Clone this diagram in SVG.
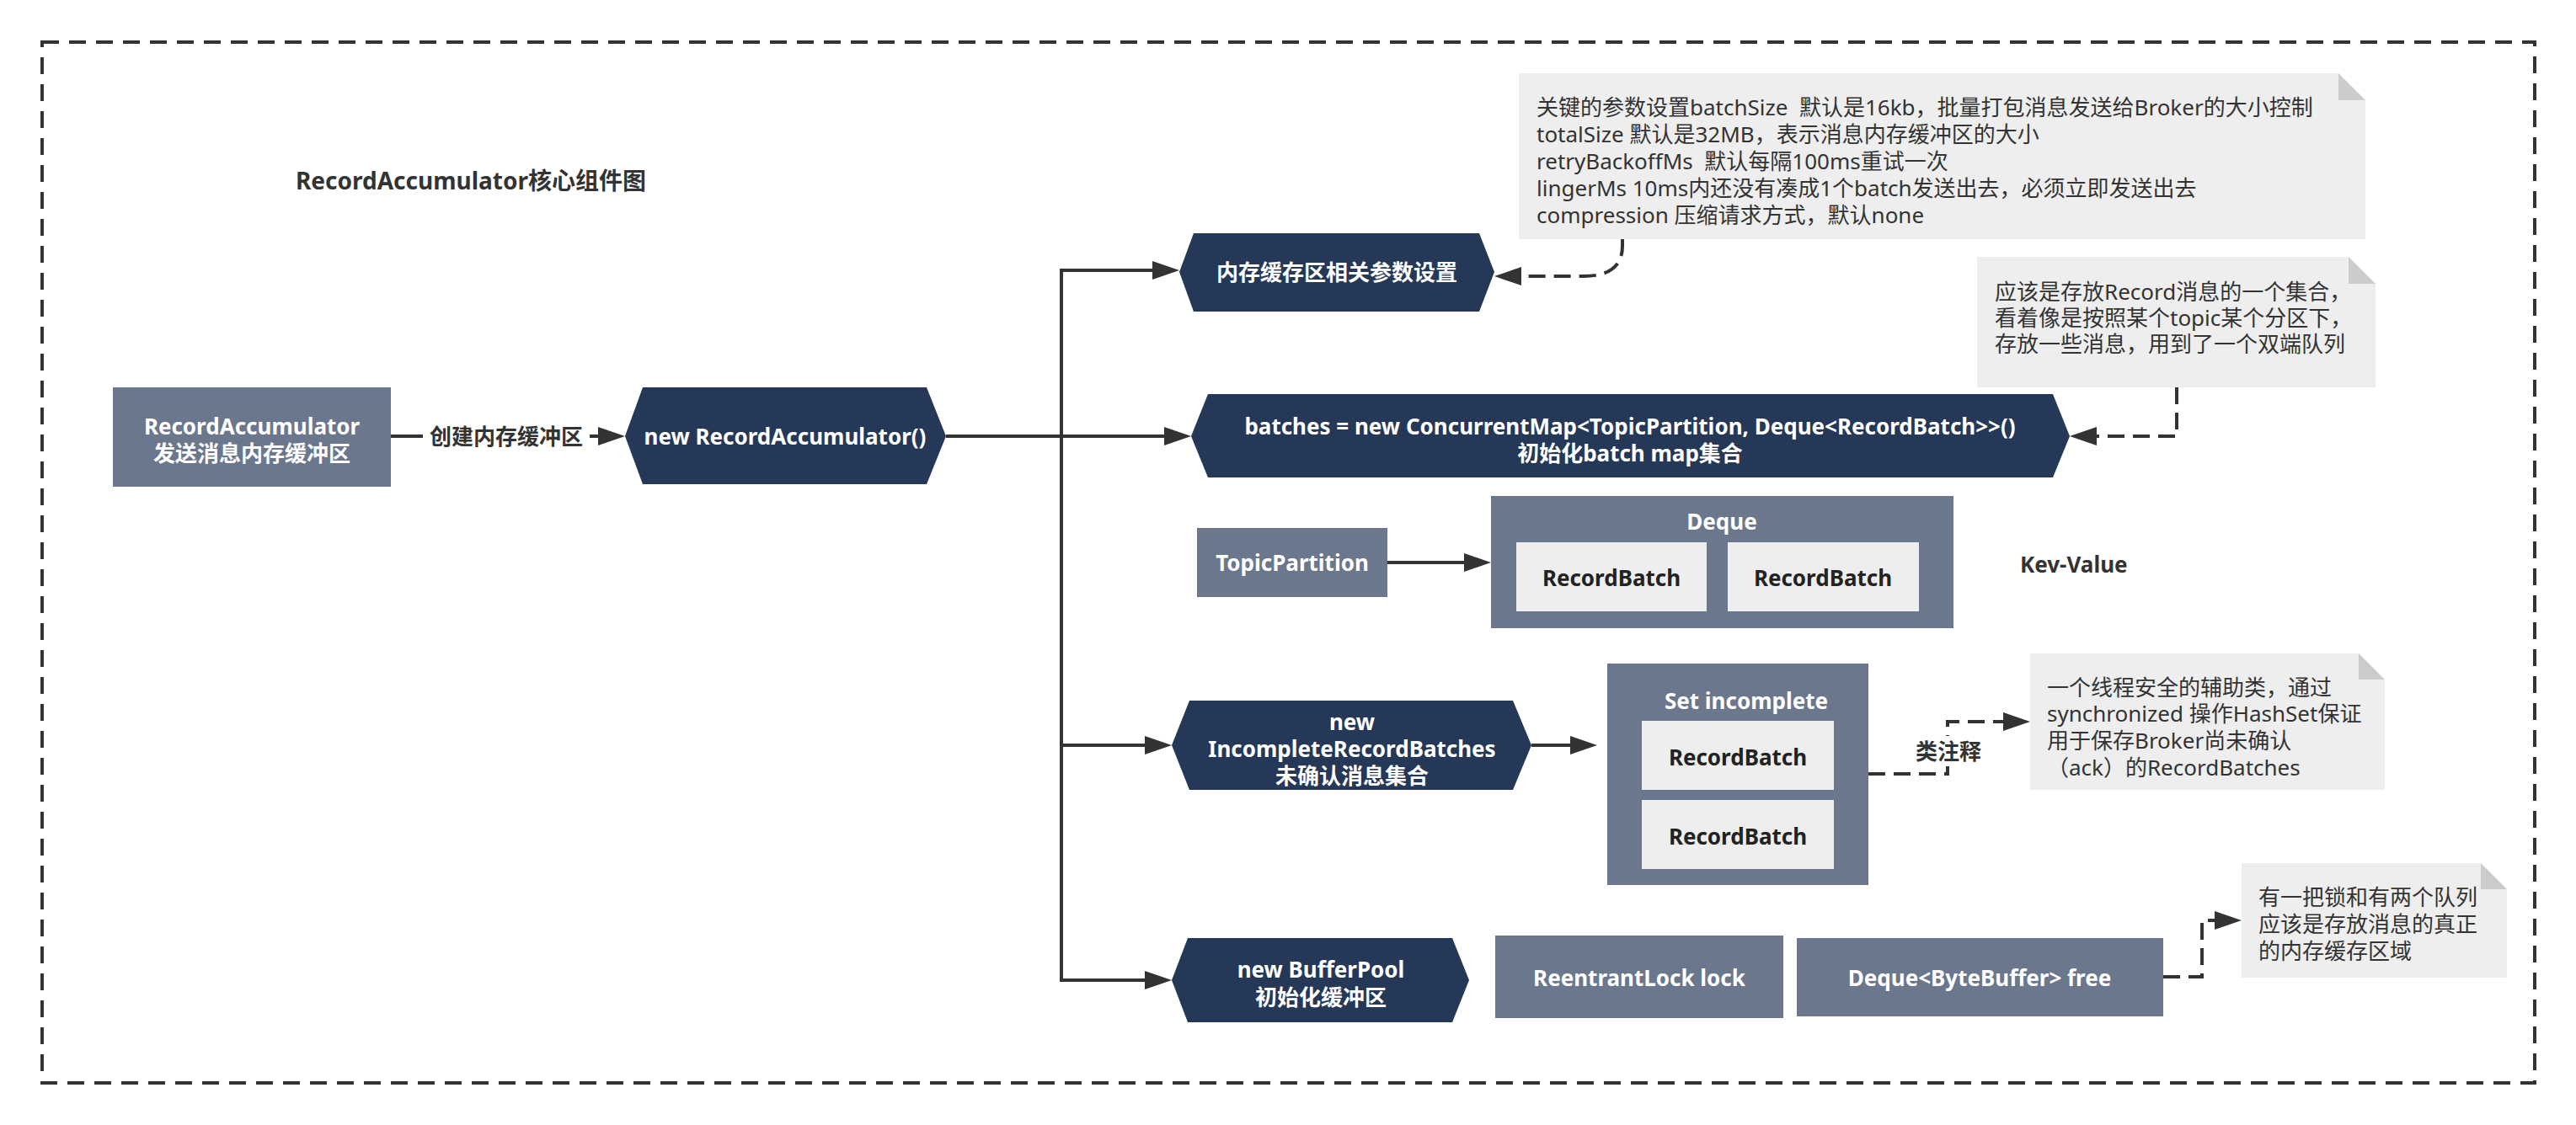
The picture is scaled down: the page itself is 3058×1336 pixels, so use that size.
<svg xmlns="http://www.w3.org/2000/svg" width="3058" height="1336" viewBox="0 0 3058 1336">
<defs>
<style>
.t{font-family:"Noto Sans","Noto Sans CJK SC",sans-serif;dominant-baseline:central}
.w{fill:#ffffff;font-weight:bold;font-size:26px;text-anchor:middle}
.d{fill:#222222;font-weight:bold;font-size:26px;text-anchor:middle}
.n{fill:#333333;font-size:26px;white-space:pre}
.hex{fill:#253858}
.box{fill:#6b778c}
.inner{fill:#eeeeee}
.note{fill:#eeeeee}
.fold{fill:#cccccc}
.c{fill:none;stroke:#333333;stroke-width:4;marker-end:url(#ah)}
.cd{fill:none;stroke:#333333;stroke-width:4;stroke-dasharray:20 10;marker-end:url(#ah)}
</style>
<marker id="ah" markerUnits="userSpaceOnUse" markerWidth="32" markerHeight="22" refX="26" refY="11" orient="auto">
<path d="M0,0 L32,11 L0,22 Z" fill="#333333"/>
</marker>
</defs>
<rect width="3058" height="1336" fill="#ffffff"/>
<rect x="50" y="50" width="2959" height="1236" fill="none" stroke="#333333" stroke-width="4" stroke-dasharray="20 12"/>
<text class="t" x="351" y="214" style="font-size:28px;font-weight:bold;fill:#333333">RecordAccumulator核心组件图</text>

<g id="connectors">
<path class="c" d="M464 518 H736"/>
<path class="c" d="M1123 518 H1260 V321 H1394"/>
<path class="c" d="M1123 518 H1408"/>
<path class="c" d="M1260 518 V885 H1385"/>
<path class="c" d="M1260 885 V1164 H1385"/>
<path class="c" d="M1647 668 H1764"/>
<path class="c" d="M1818 885 H1890"/>
<path class="cd" d="M1926 284 V292 Q1926 328 1880 328 H1780"/>
<path class="cd" d="M2584 460 V518 H2463"/>
<path class="cd" d="M2218 919 H2312 V857 H2404"/>
<path class="cd" d="M2568 1160 H2614 V1093 H2655"/>
<rect x="502" y="502" width="198" height="34" fill="#ffffff"/>
<text class="t" x="601" y="518" style="font-size:26px;font-weight:bold;fill:#333333;text-anchor:middle">创建内存缓冲区</text>
<rect x="2272" y="874" width="82" height="36" fill="#ffffff"/>
<text class="t" x="2313" y="892" style="font-size:26px;font-weight:bold;fill:#333333;text-anchor:middle">类注释</text>
</g>

<g id="record-accumulator">
<rect class="box" x="134" y="460" width="330" height="118"/>
<text class="t w" x="299" y="506">RecordAccumulator</text>
<text class="t w" x="299" y="538">发送消息内存缓冲区</text>
</g>

<g id="new-record-accumulator">
<polygon class="hex" points="742,518 763,460 1100,460 1123,518 1100,575 763,575"/>
<text class="t w" x="932" y="518">new RecordAccumulator()</text>
</g>

<g id="buffer-params">
<polygon class="hex" points="1400,323 1417,277 1756,277 1774,323 1756,370 1417,370"/>
<text class="t w" x="1587" y="323">内存缓存区相关参数设置</text>
</g>

<g id="note-params">
<path class="note" d="M1803 87 H2776 L2808 119 V284 H1803 Z"/>
<path class="fold" d="M2776 87 L2808 119 H2776 Z"/>
<text class="t n" x="1824" y="127" xml:space="preserve">关键的参数设置batchSize  默认是16kb，批量打包消息发送给Broker的大小控制</text>
<text class="t n" x="1824" y="159">totalSize 默认是32MB，表示消息内存缓冲区的大小</text>
<text class="t n" x="1824" y="191" xml:space="preserve">retryBackoffMs  默认每隔100ms重试一次</text>
<text class="t n" x="1824" y="223">lingerMs 10ms内还没有凑成1个batch发送出去，必须立即发送出去</text>
<text class="t n" x="1824" y="255">compression 压缩请求方式，默认none</text>
</g>

<g id="batches">
<polygon class="hex" points="1414,518 1434,468 2437,468 2457,518 2437,567 1434,567"/>
<text class="t w" x="1935" y="506">batches = new ConcurrentMap&lt;TopicPartition, Deque&lt;RecordBatch&gt;&gt;()</text>
<text class="t w" x="1935" y="538">初始化batch map集合</text>
</g>

<g id="note-batches">
<path class="note" d="M2347 305 H2788 L2820 337 V460 H2347 Z"/>
<path class="fold" d="M2788 305 L2820 337 H2788 Z"/>
<text class="t n" x="2368" y="346">应该是存放Record消息的一个集合，</text>
<text class="t n" x="2368" y="377">看着像是按照某个topic某个分区下，</text>
<text class="t n" x="2368" y="408">存放一些消息，用到了一个双端队列</text>
</g>

<g id="topic-partition">
<rect class="box" x="1421" y="627" width="226" height="82"/>
<text class="t w" x="1534" y="668">TopicPartition</text>
</g>

<g id="deque">
<rect class="box" x="1770" y="589" width="549" height="157"/>
<text class="t w" x="2044" y="619">Deque</text>
<rect class="inner" x="1800" y="644" width="226" height="82"/>
<text class="t d" x="1913" y="686">RecordBatch</text>
<rect class="inner" x="2051" y="644" width="227" height="82"/>
<text class="t d" x="2164" y="686">RecordBatch</text>
</g>

<g id="kv-label">
<text class="t" x="2398" y="670" style="font-size:26px;font-weight:bold;fill:#333333">Kev-Value</text>
</g>

<g id="incomplete">
<polygon class="hex" points="1391,885 1412,832 1796,832 1818,885 1796,938 1412,938"/>
<text class="t w" x="1605" y="857">new</text>
<text class="t w" x="1605" y="889">IncompleteRecordBatches</text>
<text class="t w" x="1605" y="921">未确认消息集合</text>
</g>

<g id="set-incomplete">
<rect class="box" x="1908" y="788" width="310" height="263"/>
<text class="t w" x="2073" y="832">Set incomplete</text>
<rect class="inner" x="1949" y="856" width="228" height="82"/>
<text class="t d" x="2063" y="899">RecordBatch</text>
<rect class="inner" x="1949" y="950" width="228" height="82"/>
<text class="t d" x="2063" y="993">RecordBatch</text>
</g>

<g id="note-incomplete">
<path class="note" d="M2410 776 H2800 L2831 807 V938 H2410 Z"/>
<path class="fold" d="M2800 776 L2831 807 H2800 Z"/>
<text class="t n" x="2430" y="816">一个线程安全的辅助类，通过</text>
<text class="t n" x="2430" y="847">synchronized 操作HashSet保证</text>
<text class="t n" x="2430" y="879">用于保存Broker尚未确认</text>
<text class="t n" x="2430" y="911">（ack）的RecordBatches</text>
</g>

<g id="buffer-pool">
<polygon class="hex" points="1391,1164 1410,1114 1724,1114 1744,1164 1724,1214 1410,1214"/>
<text class="t w" x="1568" y="1151">new BufferPool</text>
<text class="t w" x="1568" y="1184">初始化缓冲区</text>
</g>

<g id="reentrant-lock">
<rect class="box" x="1775" y="1111" width="342" height="98"/>
<text class="t w" x="1946" y="1161">ReentrantLock lock</text>
</g>

<g id="deque-free">
<rect class="box" x="2133" y="1114" width="435" height="93"/>
<text class="t w" x="2350" y="1161">Deque&lt;ByteBuffer&gt; free</text>
</g>

<g id="note-bufferpool">
<path class="note" d="M2661 1025 H2945 L2976 1056 V1161 H2661 Z"/>
<path class="fold" d="M2945 1025 L2976 1056 H2945 Z"/>
<text class="t n" x="2681" y="1065">有一把锁和有两个队列</text>
<text class="t n" x="2681" y="1097">应该是存放消息的真正</text>
<text class="t n" x="2681" y="1129">的内存缓存区域</text>
</g>
</svg>
